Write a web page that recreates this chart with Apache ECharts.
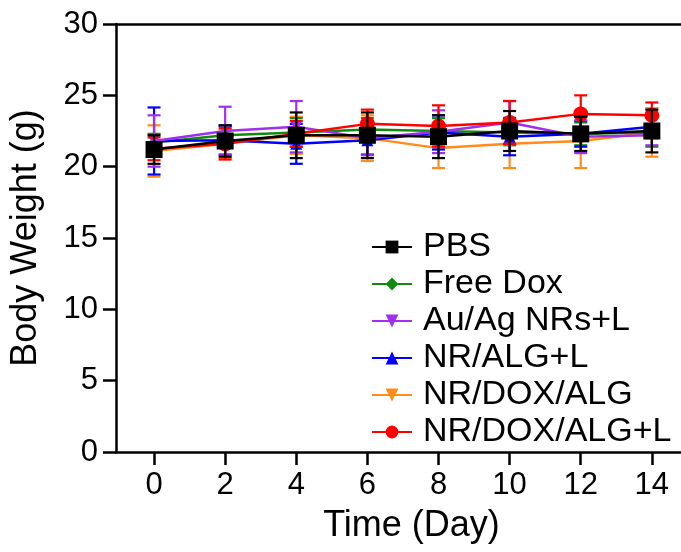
<!DOCTYPE html>
<html>
<head>
<meta charset="utf-8">
<script src="https://cdn.jsdelivr.net/npm/echarts@6/dist/echarts.min.js"></script>
<style>html,body{margin:0;padding:0;background:#fff}#c{width:681px;height:552px}</style>
</head>
<body>
<div id="c"></div>
<script>
const days = [0, 2, 4, 6, 8, 10, 12, 14];
const xTicks = [0, 2, 4, 6, 8, 10, 12, 14];
const seriesNames = ['PBS', 'Free Dox', 'Au/Ag NRs+L', 'NR/ALG+L', 'NR/DOX/ALG', 'NR/DOX/ALG+L'];
const pbsMean = [21.2, 21.8, 22.2, 22.2, 22.1, 22.5, 22.3, 22.5];
const pbsErr = [1.0, 1.1, 1.6, 1.6, 1.5, 1.4, 1.2, 1.5];
const doxMean = [21.7, 22.2, 22.4, 22.6, 22.5, 22.4, 22.3, 22.4];
const doxErr = [0.6, 0.7, 1.0, 0.8, 0.9, 0.9, 0.8, 1.0];
const auagMean = [21.8, 22.5, 22.8, 22.0, 22.45, 23.1, 22.1, 22.2];
const auagErr = [1.8, 1.7, 1.8, 1.2, 1.5, 1.5, 1.15, 0.7];
const nralgMean = [21.8, 21.85, 21.6, 21.85, 22.4, 22.1, 22.3, 22.8];
const nralgErr = [2.35, 1.0, 1.4, 1.0, 1.2, 1.3, 0.9, 0.8];
const nrdoxMean = [21.1, 21.6, 22.2, 22.0, 21.3, 21.6, 21.8, 22.4];
const nrdoxErr = [1.8, 1.0, 1.3, 1.6, 1.4, 1.7, 1.9, 1.7];
const nrdoxLMean = [21.25, 21.6, 22.3, 23.0, 22.85, 23.1, 23.7, 23.6];
const nrdoxLErr = [0.8, 1.1, 0.9, 1.0, 1.45, 1.5, 1.3, 0.9];

const means = [pbsMean, doxMean, auagMean, nralgMean, nrdoxMean, nrdoxLMean];
const errs = [pbsErr, doxErr, auagErr, nralgErr, nrdoxErr, nrdoxLErr];
const colors = ['#000000', '#118a11', '#a030f0', '#0000ff', '#ff8c1a', '#ff0000'];
const symbols = ['rect', 'diamond', 'path://M0,0 L10,0 L5,10 Z', 'triangle', 'path://M0,0 L10,0 L5,10 Z', 'circle'];
const symSizes = [17, 12, 12, 12, 12, 15];
const zs = [20, 12, 14, 13, 11, 16];

const FONT = '"Liberation Sans", Arial, sans-serif';
const series = [];
means.forEach((m, i) => {
  const color = colors[i];
  series.push({
    type: 'custom',
    name: seriesNames[i] + ' err',
    z: zs[i],
    silent: true,
    data: days.map((d, k) => [d, m[k] - errs[i][k], m[k] + errs[i][k]]),
    renderItem: function (params, api) {
      const x = api.value(0);
      const p1 = api.coord([x, api.value(2)]);
      const p2 = api.coord([x, api.value(1)]);
      const w = 6.5;
      const st = { stroke: color, lineWidth: 2.2 };
      return {
        type: 'group',
        children: [
          { type: 'line', shape: { x1: p1[0], y1: p1[1], x2: p2[0], y2: p2[1] }, style: st },
          { type: 'line', shape: { x1: p1[0] - w, y1: p1[1], x2: p1[0] + w, y2: p1[1] }, style: st },
          { type: 'line', shape: { x1: p2[0] - w, y1: p2[1], x2: p2[0] + w, y2: p2[1] }, style: st }
        ]
      };
    }
  });
  series.push({
    type: 'line',
    name: seriesNames[i],
    z: zs[i] + 1,
    data: days.map((d, k) => [d, m[k]]),
    symbol: symbols[i],
    symbolSize: symSizes[i],
    showAllSymbol: true,
    lineStyle: { color: color, width: 2.5 },
    itemStyle: { color: color, borderWidth: 0 },
    emphasis: { disabled: true },
    animation: false
  });
});

const chart = echarts.init(document.getElementById('c'), null, { renderer: 'canvas' });
chart.setOption({
  animation: false,
  backgroundColor: '#fff',
  grid: { left: 114, right: 0, top: 24, bottom: 100, containLabel: false },
  xAxis: [{
    type: 'value', min: -1.07, max: 14.82,
    name: 'Time (Day)', nameLocation: 'middle', nameGap: 56,
    nameTextStyle: { fontSize: 36, color: '#000', fontFamily: FONT, padding: [0, 0, 0, 26] },
    axisLine: { show: true, onZero: false, lineStyle: { color: '#000', width: 2.5 } },
    axisTick: { show: true, customValues: xTicks, length: 13, lineStyle: { color: '#000', width: 2.5 } },
    axisLabel: { customValues: xTicks, fontSize: 31, color: '#000', fontFamily: FONT, margin: 18 },
    splitLine: { show: false }
  }, {
    type: 'value', position: 'top', min: -1.07, max: 14.82,
    axisLine: { show: true, onZero: false, lineStyle: { color: '#000', width: 2.5 } },
    axisTick: { show: false }, axisLabel: { show: false }, splitLine: { show: false }
  }],
  yAxis: {
    type: 'value', min: 0, max: 30, interval: 5,
    name: 'Body Weight (g)', nameLocation: 'middle', nameGap: 72, nameRotate: 90,
    nameTextStyle: { fontSize: 36, color: '#000', fontFamily: FONT },
    axisLine: { show: true, onZero: false, lineStyle: { color: '#000', width: 2.5 } },
    axisTick: { show: true, length: 13, lineStyle: { color: '#000', width: 2.5 } },
    axisLabel: { fontSize: 31, color: '#000', fontFamily: FONT, margin: 18 },
    splitLine: { show: false }
  },
  legend: {
    orient: 'vertical', left: 366, top: 225,
    data: seriesNames,
    itemWidth: 40, itemHeight: 16, itemGap: 3,
    textStyle: { fontSize: 34, color: '#000', fontFamily: FONT, padding: [0, 0, 0, 6] },
    selectedMode: false
  },
  series: series
});
</script>
</body>
</html>
